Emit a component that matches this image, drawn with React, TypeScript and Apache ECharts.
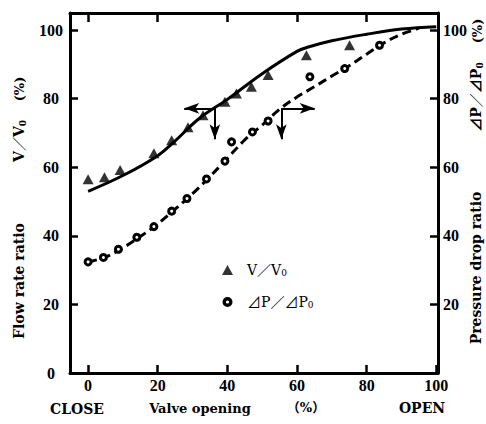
import React, { useEffect, useRef } from "react";
import * as echarts from "echarts";

// ---- data ----
const xTickValues = [0, 20, 40, 60, 80, 100];
const xTopTickValues = [0, 20, 40, 60, 80];
const yLeftLabelValues = [0, 20, 40, 60, 80, 100];
const yTickValues = [20, 40, 60, 80, 100];

// V/V0 measured points (triangles)
const flowX = [0, 4.7, 9.2, 18.9, 24, 28.7, 33, 39.3, 42.6, 46.9, 51.7, 62.7, 75.1];
const flowY = [56.5, 57.1, 59.2, 64.1, 67.9, 71.7, 75.2, 79.1, 81.5, 83.5, 86.9, 92.7, 95.6];

// dP/dP0 measured points (circles)
const dropX = [0, 4.4, 8.7, 14, 18.9, 24, 28.4, 34, 39.3, 41.2, 47.2, 51.7, 63.7, 73.7, 83.7];
const dropY = [32.4, 33.7, 36.1, 39.6, 42.7, 47.2, 50.9, 56.6, 61.8, 67.4, 70.3, 73.5, 86.4, 88.8, 95.6];

// solid fitted curve (V/V0)
const flowCurveX = [0, 10, 20, 25, 32, 40, 50, 60, 63, 70, 80, 90, 100];
const flowCurveY = [53, 57.6, 63.4, 67.7, 74.3, 79.8, 87.3, 93.8, 95, 96.9, 98.8, 100.3, 101];

// dashed fitted curve (dP/dP0)
const dropCurveX = [0, 5, 10, 15, 20, 25, 30, 35, 40, 45, 50, 55, 60, 65, 70, 75, 80, 85, 90, 95];
const dropCurveY = [32.4, 33.8, 36.5, 39.8, 43.5, 47.8, 52.3, 57.3, 62.6, 68, 72.3, 76.9, 80.5, 83.5, 86.6, 89.6, 93, 96.3, 98.8, 100.5];

// annotation arrows: [originX, originY, tipX, tipY]
const arrows = [
  [36.4, 77.2, 27.6, 77.2],
  [36.4, 77.2, 36.4, 68.2],
  [55.5, 77.2, 65.1, 77.2],
  [55.5, 77.2, 55.5, 68.2],
];

const seriesNames = ["V/V0", "dP/dP0"];

const SERIF = "'Liberation Serif', 'DejaVu Serif', 'Noto Sans CJK JP', serif";
const TITLE_FONT = "'DejaVu Serif', 'Liberation Serif', 'Noto Sans CJK JP', serif";

const RING_ICON =
  "path://M5,0A5,5,0,1,1,5,10A5,5,0,1,1,5,0ZM5,3.4A1.6,1.6,0,1,0,5,6.6A1.6,1.6,0,1,0,5,3.4Z";

function zip(xs: number[], ys: number[]) {
  return xs.map((x, i) => [x, ys[i]]);
}

export default function App() {
  const ref = useRef<HTMLDivElement>(null);

  useEffect(() => {
    document.body.style.margin = "0";
    if (!ref.current) return;
    const chart = echarts.init(ref.current, null, { renderer: "svg" });

    const axisLineStyle = { color: "#000", width: 3 };
    const tickStyle = { color: "#000", width: 2.5 };
    const labelStyle = {
      color: "#000",
      fontSize: 16,
      fontWeight: "bold" as const,
      fontFamily: SERIF,
    };

    const richTitle = {
      a: { fontSize: 14, fontWeight: "bold", fontFamily: TITLE_FONT, fill: "#000", color: "#000", lineHeight: 16 },
      s: { fontSize: 9, fontWeight: "bold", fontFamily: TITLE_FONT, fill: "#000", color: "#000", lineHeight: 10, verticalAlign: "bottom" },
    };

    const titleText = (x: number, y: number, text: string, rotate = true, size = 14) => ({
      type: "text",
      x,
      y,
      rotation: rotate ? Math.PI / 2 : 0,
      style: {
        text,
        fontSize: size,
        fontWeight: "bold",
        fontFamily: TITLE_FONT,
        fill: "#000",
        align: "center",
        verticalAlign: "middle",
        rich: richTitle,
      },
    });

    const option: any = {
      animation: false,
      backgroundColor: "#fff",
      grid: { left: 70, right: 48, top: 13, bottom: 51 },
      xAxis: [
        {
          type: "value",
          position: "bottom",
          min: -5.2,
          max: 100.5,
          axisLine: { onZero: false, lineStyle: axisLineStyle },
          axisTick: { inside: true, length: 8, customValues: xTickValues, lineStyle: tickStyle },
          axisLabel: { ...labelStyle, customValues: xTickValues, margin: 4 },
          splitLine: { show: false },
        },
        {
          type: "value",
          position: "top",
          min: -5.2,
          max: 100.5,
          axisLine: { onZero: false, lineStyle: axisLineStyle },
          axisTick: { inside: true, length: 9, customValues: xTopTickValues, lineStyle: tickStyle },
          axisLabel: { show: false },
          splitLine: { show: false },
        },
      ],
      yAxis: [
        {
          type: "value",
          position: "left",
          min: 0,
          max: 105,
          axisLine: { onZero: false, lineStyle: axisLineStyle },
          axisTick: { inside: true, length: 8, customValues: yTickValues, lineStyle: tickStyle },
          axisLabel: { ...labelStyle, customValues: yLeftLabelValues, margin: 19, align: "center" },
          splitLine: { show: false },
        },
        {
          type: "value",
          position: "right",
          min: 0,
          max: 105,
          axisLine: { onZero: false, lineStyle: axisLineStyle },
          axisTick: { inside: true, length: 8, customValues: yTickValues, lineStyle: tickStyle },
          axisLabel: { ...labelStyle, customValues: yTickValues, margin: 5, align: "left" },
          splitLine: { show: false },
        },
      ],
      legend: {
        data: [
          { name: seriesNames[0], icon: "triangle" },
          { name: seriesNames[1], icon: RING_ICON, itemStyle: { color: "#000", borderWidth: 0 } },
        ],
        orient: "vertical",
        left: 217,
        top: 258,
        itemWidth: 11,
        itemHeight: 10,
        itemGap: 17,
        formatter: (name: string) =>
          name === seriesNames[0] ? "{a|V／V}{s|0}" : "{a|⊿P／⊿P}{s|0}",
        textStyle: {
          color: "#000",
          rich: {
            a: { fontSize: 14, fontFamily: TITLE_FONT, color: "#000", lineHeight: 16, padding: [0, 0, 0, 9] },
            s: { fontSize: 9, fontFamily: TITLE_FONT, color: "#000", lineHeight: 10, verticalAlign: "bottom" },
          },
        },
      },
      series: [
        {
          name: "flowCurve",
          type: "line",
          data: zip(flowCurveX, flowCurveY),
          smooth: 0.4,
          showSymbol: false,
          symbol: "none",
          lineStyle: { color: "#000", width: 3 },
          z: 2,
        },
        {
          name: "dropCurve",
          type: "line",
          data: zip(dropCurveX, dropCurveY),
          smooth: 0.4,
          showSymbol: false,
          symbol: "none",
          lineStyle: { color: "#000", width: 3, type: [9, 5] },
          z: 2,
        },
        {
          name: seriesNames[0],
          type: "scatter",
          data: zip(flowX, flowY),
          symbol: "triangle",
          symbolSize: [11, 10],
          itemStyle: { color: "#000" },
          z: 4,
          markLine: {
            silent: true,
            animation: false,
            symbol: ["none", "arrow"],
            symbolSize: [8, 15],
            label: { show: false },
            lineStyle: { color: "#000", width: 2, type: "solid" },
            data: arrows.map((a) => [{ coord: [a[0], a[1]] }, { coord: [a[2], a[3]] }]),
          },
        },
        {
          name: seriesNames[1],
          type: "scatter",
          data: zip(dropX, dropY),
          symbol: "circle",
          symbolSize: 6,
          itemStyle: { color: "#fff", borderColor: "#000", borderWidth: 3, opacity: 1 },
          z: 4,
        },
      ],
      graphic: [
        titleText(19, 281, "Flow rate ratio"),
        titleText(19, 141, "{a|V／V}{s|0}"),
        titleText(19, 89, "(%)", true, 13),
        titleText(476, 268, "Pressure drop ratio"),
        titleText(476, 97, "{a|⊿P／⊿P}{s|0}"),
        titleText(477, 31, "(%)", true, 13),
        titleText(77, 409, "CLOSE", false, 14),
        titleText(200, 408, "Valve opening", false, 13),
        titleText(306, 407, "（%）", false, 13),
        titleText(422, 408, "OPEN", false, 14),
      ],
    };

    chart.setOption(option);
    return () => chart.dispose();
  }, []);

  return <div ref={ref} style={{ width: 486, height: 424 }} />;
}
